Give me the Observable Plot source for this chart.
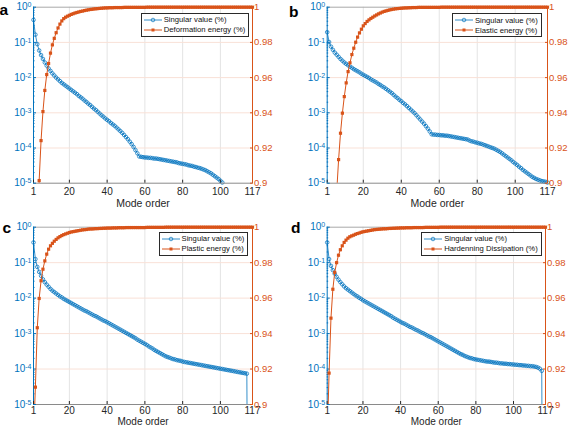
<!DOCTYPE html>
<html><head><meta charset="utf-8">
<script src="https://cdn.jsdelivr.net/npm/d3@7"></script>
<script src="https://cdn.jsdelivr.net/npm/@observablehq/plot@0.6"></script>
<style>
html,body{margin:0;padding:0;background:#fff;}
#root{position:relative;width:568px;height:427px;overflow:hidden;font-family:"Liberation Sans",Arial,sans-serif;}
#root svg.panel{position:absolute;}
.letter{position:absolute;font-weight:bold;font-size:15.5px;line-height:15px;color:#000;}
.legend{position:absolute;background:#fff;border:0.8px solid #2a2a2a;font-size:7.7px;color:#111;padding:1px 3px 1px 2px;}
.legend .row{display:flex;align-items:center;height:10px;white-space:nowrap;}
.legend svg{margin-right:1.7px;display:block;}
</style></head><body><div id="root"></div>
<script>
// ---------- data ----------
const xTickLabels = [1, 20, 40, 60, 80, 100, 117];
const svTicks = [1, 1e-1, 1e-2, 1e-3, 1e-4, 1e-5];
const energyTicks = [0.9, 0.92, 0.94, 0.96, 0.98, 1];
const panelLetters = ["a", "b", "c", "d"];
const energyNames = ["Deformation energy (%)", "Elastic energy (%)", "Plastic energy (%)", "Hardenning Dissipation (%)"];
const svName = "Singular value (%)";
const xAxisTitle = "Mode order";

// singular values, log10, mode 1..n
const svA_log10 = [
-0.36,-0.78,-1.05,-1.23,-1.36,-1.47,-1.57,-1.66,-1.74,-1.81,
-1.88,-1.94,-2.00,-2.05,-2.10,-2.15,-2.19,-2.23,-2.27,-2.31,
-2.35,-2.39,-2.43,-2.47,-2.52,-2.56,-2.60,-2.65,-2.69,-2.74,
-2.78,-2.83,-2.88,-2.92,-2.97,-3.02,-3.07,-3.11,-3.16,-3.20,
-3.24,-3.29,-3.33,-3.37,-3.42,-3.47,-3.52,-3.57,-3.63,-3.69,
-3.75,-3.82,-3.89,-3.97,-4.06,-4.15,-4.24,-4.25,-4.26,-4.27,
-4.27,-4.28,-4.28,-4.29,-4.30,-4.30,-4.31,-4.32,-4.33,-4.34,
-4.35,-4.36,-4.37,-4.38,-4.39,-4.40,-4.41,-4.43,-4.44,-4.45,
-4.46,-4.47,-4.49,-4.50,-4.51,-4.53,-4.54,-4.56,-4.57,-4.59,
-4.61,-4.63,-4.66,-4.69,-4.72,-4.76,-4.80,-4.84,-4.88,-4.93,
-4.98,-5.04];
const svB_log10 = [
-0.71,-0.99,-1.12,-1.21,-1.29,-1.35,-1.41,-1.47,-1.52,-1.57,
-1.61,-1.65,-1.69,-1.72,-1.76,-1.79,-1.82,-1.85,-1.89,-1.92,
-1.95,-1.98,-2.01,-2.05,-2.08,-2.11,-2.14,-2.18,-2.21,-2.25,
-2.28,-2.32,-2.36,-2.40,-2.44,-2.49,-2.54,-2.58,-2.63,-2.67,
-2.72,-2.76,-2.81,-2.86,-2.91,-2.96,-3.01,-3.07,-3.13,-3.19,
-3.25,-3.31,-3.38,-3.45,-3.53,-3.61,-3.62,-3.62,-3.63,-3.63,
-3.64,-3.64,-3.65,-3.65,-3.66,-3.67,-3.68,-3.69,-3.70,-3.71,
-3.72,-3.73,-3.74,-3.75,-3.76,-3.79,-3.81,-3.82,-3.84,-3.85,
-3.87,-3.88,-3.90,-3.92,-3.94,-3.96,-3.98,-4.00,-4.02,-4.05,
-4.08,-4.11,-4.15,-4.19,-4.23,-4.27,-4.31,-4.35,-4.40,-4.44,
-4.48,-4.53,-4.57,-4.62,-4.66,-4.70,-4.74,-4.78,-4.82,-4.85,
-4.88,-4.90,-4.92,-4.94,-4.95,-4.96,-4.98];
const svC_log10 = [
-0.43,-0.90,-1.12,-1.26,-1.37,-1.47,-1.55,-1.62,-1.68,-1.74,
-1.79,-1.83,-1.87,-1.91,-1.95,-1.98,-2.02,-2.05,-2.08,-2.11,
-2.14,-2.17,-2.20,-2.23,-2.26,-2.29,-2.32,-2.35,-2.37,-2.40,
-2.43,-2.46,-2.49,-2.51,-2.54,-2.57,-2.60,-2.63,-2.65,-2.68,
-2.71,-2.74,-2.77,-2.80,-2.83,-2.86,-2.89,-2.92,-2.95,-2.98,
-3.01,-3.04,-3.07,-3.10,-3.13,-3.17,-3.20,-3.23,-3.26,-3.29,
-3.32,-3.36,-3.39,-3.42,-3.46,-3.49,-3.52,-3.55,-3.58,-3.61,
-3.64,-3.66,-3.68,-3.70,-3.72,-3.73,-3.75,-3.76,-3.77,-3.79,
-3.80,-3.81,-3.82,-3.83,-3.84,-3.85,-3.86,-3.87,-3.88,-3.89,
-3.90,-3.91,-3.92,-3.93,-3.94,-3.95,-3.96,-3.97,-3.98,-3.99,
-4.00,-4.01,-4.02,-4.03,-4.04,-4.05,-4.06,-4.07,-4.08,-4.09,
-4.10,-4.11,-4.12,-4.13,-14];
const svD_log10 = [
-0.43,-0.90,-1.09,-1.21,-1.31,-1.40,-1.48,-1.55,-1.61,-1.67,
-1.72,-1.76,-1.80,-1.84,-1.88,-1.92,-1.95,-1.99,-2.02,-2.06,
-2.09,-2.12,-2.15,-2.18,-2.21,-2.24,-2.27,-2.30,-2.33,-2.36,
-2.39,-2.42,-2.45,-2.48,-2.51,-2.55,-2.58,-2.61,-2.64,-2.67,
-2.70,-2.72,-2.75,-2.78,-2.81,-2.83,-2.86,-2.89,-2.91,-2.94,
-2.97,-2.99,-3.02,-3.05,-3.08,-3.10,-3.13,-3.16,-3.19,-3.22,
-3.25,-3.28,-3.31,-3.34,-3.37,-3.40,-3.43,-3.46,-3.49,-3.52,
-3.55,-3.58,-3.60,-3.63,-3.65,-3.67,-3.69,-3.70,-3.72,-3.73,
-3.74,-3.75,-3.76,-3.77,-3.78,-3.79,-3.79,-3.80,-3.81,-3.82,
-3.82,-3.83,-3.84,-3.84,-3.85,-3.85,-3.86,-3.86,-3.87,-3.87,
-3.88,-3.88,-3.89,-3.89,-3.90,-3.90,-3.91,-3.91,-3.92,-3.92,
-3.93,-3.94,-3.96,-3.99,-4.05,-14];

// cumulative energy, mode 1..117
const energyA = [
0.40,0.65,0.85,0.9015,0.9242,0.9407,0.9527,0.9617,0.9680,0.9739,
0.9786,0.9823,0.9855,0.9882,0.9904,0.9922,0.9935,0.9943,0.9949,0.9954,
0.9959,0.9963,0.9967,0.9970,0.9973,0.9976,0.9978,0.9981,0.9983,0.9985,
0.9987,0.9988,0.9990,0.9991,0.9992,0.9993,0.9994,0.9995,0.9996,0.9996,
0.9997,0.9997,0.9997,0.9998,0.9998,0.9998,0.9998,0.9998,0.9999,0.9999,
0.9999,0.9999,0.9999,0.9999,0.9999,0.9999,0.9999,0.9999,0.9999,0.9999,
1,1,1,1,1,1,1,1,1,1, 1,1,1,1,1,1,1,1,1,1, 1,1,1,1,1,1,1,1,1,1,
1,1,1,1,1,1,1,1,1,1, 1,1,1,1,1,1,1,1,1,1, 1,1,1,1,1,1,1];
const energyB = [
0.35,0.55,0.68,0.78,0.85,0.895,0.9134,0.9284,0.9398,0.9492,
0.9570,0.9634,0.9684,0.9731,0.9767,0.9801,0.9830,0.9854,0.9875,0.9894,
0.9907,0.9919,0.9928,0.9936,0.9943,0.9950,0.9956,0.9962,0.9967,0.9972,
0.9976,0.9979,0.9982,0.9985,0.9987,0.9989,0.9991,0.9992,0.9993,0.9994,
0.9995,0.9996,0.9996,0.9997,0.9997,0.9998,0.9998,0.9998,0.9999,0.9999,
0.9999,0.9999,0.9999,0.9999,0.9999,0.9999,0.9999,0.9999,0.9999,0.9999,
1,1,1,1,1,1,1,1,1,1, 1,1,1,1,1,1,1,1,1,1, 1,1,1,1,1,1,1,1,1,1,
1,1,1,1,1,1,1,1,1,1, 1,1,1,1,1,1,1,1,1,1, 1,1,1,1,1,1,1];
const energyC = [
0.88,0.9098,0.9433,0.9598,0.9698,0.9763,0.9810,0.9848,0.9876,0.9895,
0.9909,0.9921,0.9931,0.9940,0.9947,0.9953,0.9958,0.9962,0.9966,0.9970,
0.9973,0.9975,0.9977,0.9979,0.9981,0.9983,0.9985,0.9986,0.9987,0.9989,
0.9990,0.9990,0.9991,0.9992,0.9992,0.9993,0.9993,0.9994,0.9994,0.9995,
0.9995,0.9995,0.9996,0.9996,0.9996,0.9997,0.9997,0.9997,0.9997,0.9998,
0.9998,0.9998,0.9998,0.9998,0.9998,0.9998,0.9998,0.9998,0.9998,0.9998,
0.9999,0.9999,0.9999,0.9999,0.9999,0.9999,0.9999,0.9999,0.9999,0.9999,
1,1,1,1,1,1,1,1,1,1, 1,1,1,1,1,1,1,1,1,1, 1,1,1,1,1,1,1,1,1,1,
1,1,1,1,1,1,1,1,1,1, 1,1,1,1,1,1,1];
const energyD = [
0.88,0.9177,0.9487,0.9650,0.9745,0.9800,0.9842,0.9873,0.9895,0.9914,
0.9927,0.9938,0.9946,0.9951,0.9955,0.9960,0.9964,0.9967,0.9971,0.9974,
0.9976,0.9978,0.9980,0.9982,0.9984,0.9986,0.9987,0.9988,0.9989,0.9990,
0.9991,0.9991,0.9992,0.9993,0.9993,0.9994,0.9994,0.9995,0.9995,0.9996,
0.9996,0.9996,0.9997,0.9997,0.9997,0.9997,0.9998,0.9998,0.9998,0.9998,
0.9998,0.9998,0.9999,0.9999,0.9999,0.9999,0.9999,0.9999,0.9999,0.9999,
1,1,1,1,1,1,1,1,1,1, 1,1,1,1,1,1,1,1,1,1, 1,1,1,1,1,1,1,1,1,1,
1,1,1,1,1,1,1,1,1,1, 1,1,1,1,1,1,1,1,1,1, 1,1,1,1,1,1,1];

// ---------- styling / layout ----------
const BLUE = "#0072BD", ORANGE = "#D95319";
const FONT = '"Liberation Sans", Arial, Helvetica, sans-serif';
const fmtPow = d => "10^" + Math.round(Math.log10(d));
const fmtE = d => String(+d.toFixed(2));
const minorLog = [];
for (let k = -5; k < 0; k++) for (let j = 2; j <= 9; j++) minorLog.push(j * Math.pow(10, k));

const layout = [
  {left:0,   top:0,   w:284, h:213, mL:33,   mR:32, mT:6.7,  mB:30.3, xLabDy:20.3, tickPad:8,   titleSize:10.5, legRight:318.7, legTop:12.7,  letX:-0.5, letY:1.5},
  {left:284, top:0,   w:284, h:213, mL:42.7, mR:21, mT:6.7,  mB:30.3, xLabDy:20.3, tickPad:8,   titleSize:10.5, legRight:26.3,  legTop:13.3,  letX:289,  letY:3.5},
  {left:0,   top:213, w:284, h:214, mL:33,   mR:32, mT:13.7, mB:23,   xLabDy:17.6, tickPad:5.8, titleSize:10,   legRight:319.7, legTop:231.7, letX:2.5,  letY:219.5},
  {left:284, top:213, w:284, h:214, mL:42.7, mR:23, mT:13.7, mB:23,   xLabDy:17.6, tickPad:5.8, titleSize:10,   legRight:26.3,  legTop:231.7, letX:291,  letY:219.5}
];
const svSeries = [svA_log10, svB_log10, svC_log10, svD_log10];
const enSeries = [energyA, energyB, energyC, energyD];

const root = document.getElementById("root");
const SVGNS = "http://www.w3.org/2000/svg";

function place(svg, L) {
  svg.classList.add("panel");
  svg.style.left = L.left + "px";
  svg.style.top = L.top + "px";
  root.appendChild(svg);
}

// turn "10^-3" tick labels into 10 with a raised exponent
function superscriptTicks(svg) {
  svg.querySelectorAll("text").forEach(t => {
    const s = t.textContent;
    const m = /^10\^(-?\d+)$/.exec(s);
    if (!m) return;
    while (t.firstChild) t.removeChild(t.firstChild);
    const base = document.createElementNS(SVGNS, "tspan");
    base.textContent = "10";
    const ex = document.createElementNS(SVGNS, "tspan");
    ex.textContent = m[1];
    ex.setAttribute("dy", "-0.42em");
    ex.setAttribute("font-size", "7px");
    t.appendChild(base);
    t.appendChild(ex);
  });
}

layout.forEach((L, p) => {
  const svData = svSeries[p].map((lv, i) => ({m: i + 1, v: Math.pow(10, lv)}));
  const enData = enSeries[p].map((e, i) => ({m: i + 1, e}));
  const common = {
    width: L.w, height: L.h,
    marginLeft: L.mL, marginRight: L.mR, marginTop: L.mT, marginBottom: L.mB,
    style: {background: "transparent", fontFamily: FONT, fontSize: "10px", overflow: "visible"}
  };

  const leftPlot = Plot.plot({
    ...common,
    x: {domain: [1, 117]},
    y: {type: "log", domain: [1e-5, 1]},
    marks: [
      Plot.ruleX(xTickLabels.slice(1, -1), {stroke: "#e4e4e4", strokeWidth: 1}),
      Plot.ruleY(svTicks.slice(1, -1), {stroke: "#f9e1d7", strokeWidth: 1}),
      Plot.line(svData, {x: "m", y: "v", stroke: BLUE, strokeWidth: 0.8, clip: true}),
      Plot.dot(svData.filter(d => d.v >= 1e-5 && d.v <= 1), {x: "m", y: "v", r: 1.8, stroke: BLUE, strokeWidth: 0.75, fill: "none"}),
      Plot.ruleY([1], {stroke: "#a8a8a8", strokeWidth: 1}),
      Plot.ruleY([1e-5], {stroke: "#8a8a8a", strokeWidth: 1}),
      Plot.ruleX([1], {stroke: BLUE, strokeWidth: 1}),
      Plot.axisX(xTickLabels, {anchor: "bottom", tickSize: -3, tickPadding: L.tickPad, color: "#262626", fontSize: 10, label: null}),
      Plot.axisY(svTicks, {anchor: "left", tickSize: -3, tickPadding: 5, tickFormat: fmtPow, color: BLUE, fontSize: 10, label: null}),
      Plot.axisY(minorLog, {anchor: "left", tickSize: -1.5, tickPadding: 0, tickFormat: () => "", color: BLUE, label: null}),
      Plot.text([xAxisTitle], {text: d => d, frameAnchor: "bottom", dy: L.xLabDy, lineAnchor: "middle", fontSize: L.titleSize, fill: "#262626"})
    ]
  });
  superscriptTicks(leftPlot);
  place(leftPlot, L);

  const rightPlot = Plot.plot({
    ...common,
    x: {domain: [1, 117], axis: null},
    y: {domain: [0.9, 1]},
    marks: [
      Plot.line(enData, {x: "m", y: "e", stroke: ORANGE, strokeWidth: 1, clip: true}),
      Plot.dot(enData.filter(d => d.e >= 0.9), {x: "m", y: "e", symbol: "square", r: 1.8, fill: ORANGE, stroke: "none"}),
      Plot.ruleX([117], {stroke: ORANGE, strokeWidth: 1}),
      Plot.axisY(energyTicks, {anchor: "right", tickSize: -3, tickPadding: 4.5, tickFormat: fmtE, color: ORANGE, fontSize: 9.5, label: null})
    ]
  });
  place(rightPlot, L);

  const let_ = document.createElement("div");
  let_.className = "letter";
  let_.textContent = panelLetters[p];
  let_.style.left = L.letX + "px";
  let_.style.top = L.letY + "px";
  root.appendChild(let_);

  const leg = document.createElement("div");
  leg.className = "legend";
  leg.style.right = L.legRight + "px";
  leg.style.top = L.legTop + "px";
  leg.innerHTML =
    `<div class="row"><svg width="18" height="8"><line x1="0" y1="4" x2="18" y2="4" stroke="${BLUE}" stroke-width="0.8"/><circle cx="9" cy="4" r="1.8" fill="none" stroke="${BLUE}" stroke-width="0.7"/></svg><span>${svName}</span></div>` +
    `<div class="row"><svg width="18" height="8"><line x1="0" y1="4" x2="18" y2="4" stroke="${ORANGE}" stroke-width="1"/><rect x="7.5" y="2.5" width="3" height="3" fill="${ORANGE}"/></svg><span>${energyNames[p]}</span></div>`;
  root.appendChild(leg);
});
</script></body></html>
